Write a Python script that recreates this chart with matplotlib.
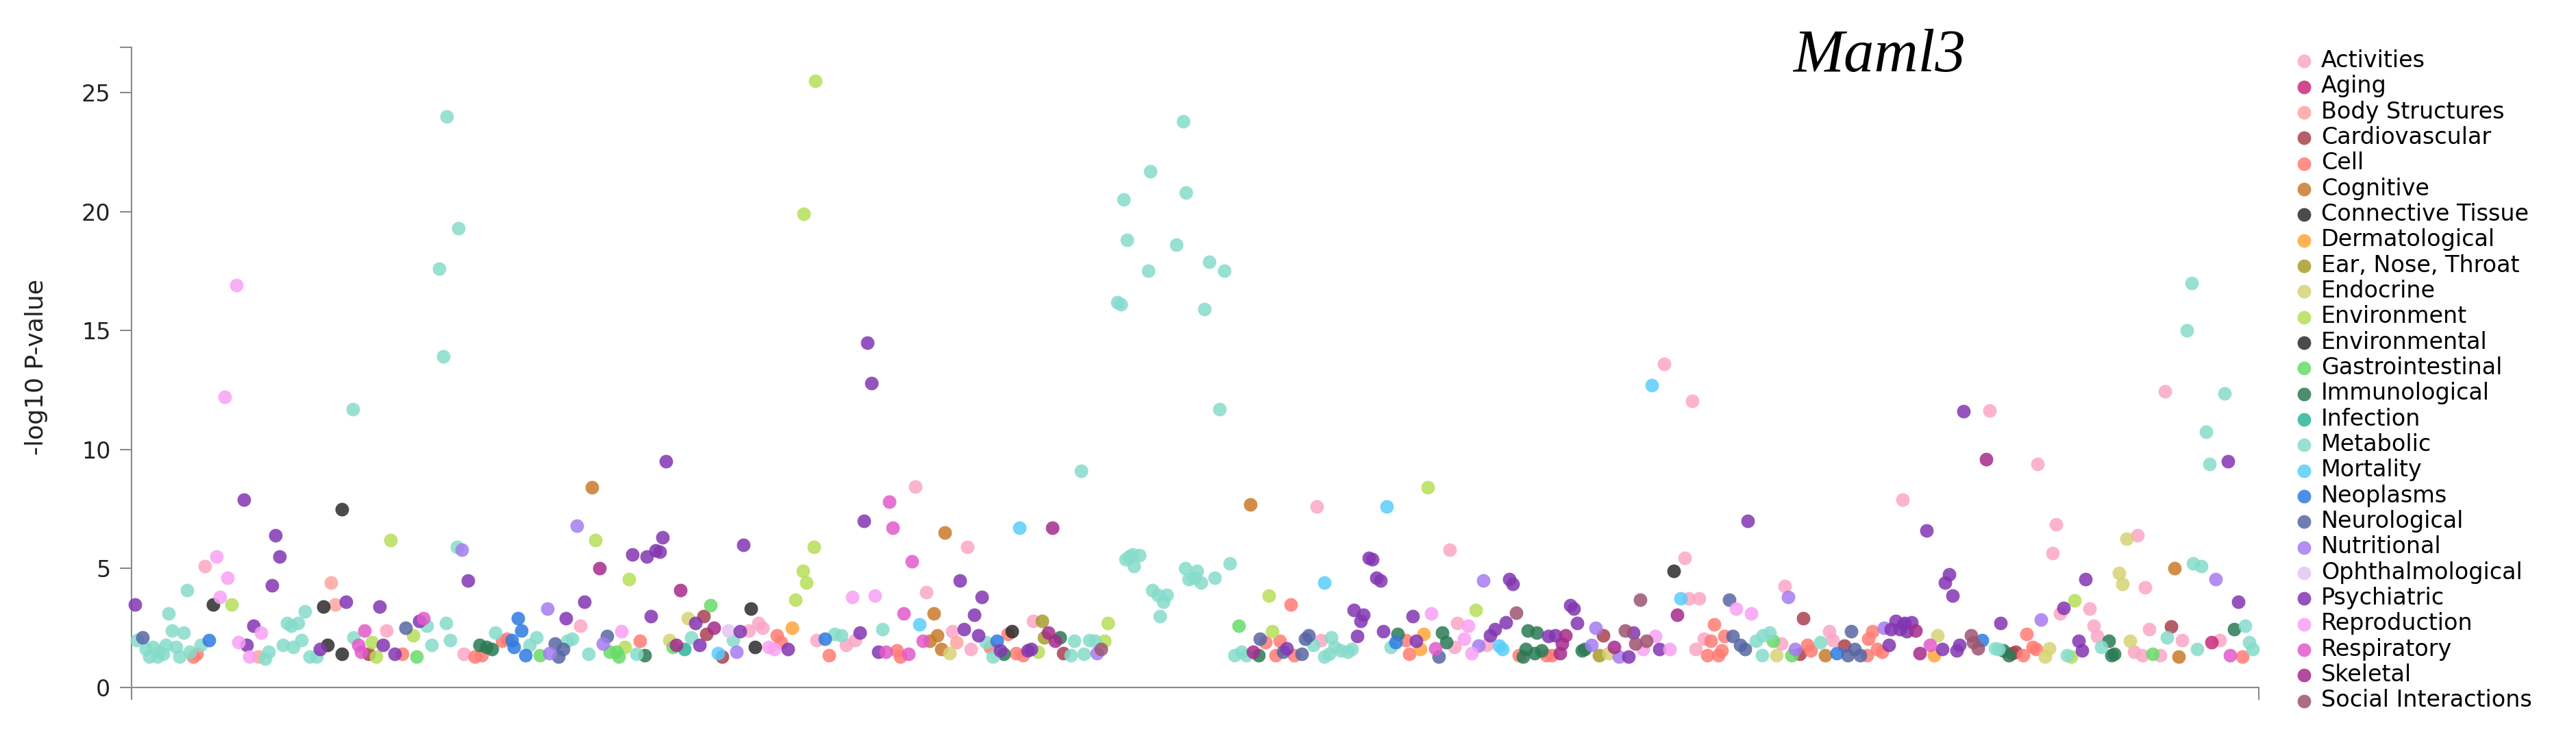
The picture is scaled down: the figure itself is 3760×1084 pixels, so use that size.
import matplotlib
matplotlib.use("Agg")
import matplotlib.pyplot as plt

# phenotype position (x) and -log10 p (y), one list per category
activities = [(299, 5.1), (564, 2.4), (677, 1.4), (847, 2.6), (1093, 2.4), (1107, 2.7), (1113, 2.5),
              (1192, 2.0), (1336, 8.45), (1412, 5.9), (1352, 4.0), (1390, 2.35), (1417, 1.6), (1235, 1.8),
              (1248, 2.0), (1508, 2.8), (1922, 7.6), (2116, 5.8), (2127, 2.7), (2123, 1.7), (2170, 1.8),
              (1928, 2.0), (2777, 7.9), (2459, 5.45), (2605, 4.25), (2465, 3.75), (2480, 3.75), (2487, 2.05),
              (2475, 1.6), (2600, 1.85), (2670, 2.35), (2675, 2.0), (2429, 13.6), (2470, 12.05), (2904, 11.65),
              (2974, 9.4), (3160, 12.45), (3001, 6.85), (2996, 5.65), (3120, 6.4), (3131, 4.2), (3007, 3.1),
              (3050, 3.3), (3056, 2.6), (3061, 2.15), (3115, 1.5), (3127, 1.35), (3153, 1.35), (3137, 2.45),
              (3185, 2.0), (3240, 2.0)]
aging = [(3228, 1.9)]
body_structures = [(483, 4.4), (489, 3.5), (377, 1.3), (1396, 1.9)]
cardiovascular = [(538, 1.4), (1027, 3.0), (1031, 2.25), (1054, 1.3), (1552, 1.45), (2632, 2.9), (2340, 2.2),
                  (2627, 1.4), (2692, 1.75), (2942, 1.5), (2937, 1.45), (3169, 2.55)]
cell = [(287, 1.4), (282, 1.3), (587, 1.4), (693, 1.3), (934, 1.95), (1134, 2.2), (1140, 1.9), (1210, 1.35),
        (733, 1.95), (740, 2.05), (703, 1.35), (1309, 1.55), (1314, 1.3), (1445, 1.7), (1483, 1.45),
        (1493, 1.35), (1471, 2.25), (1884, 3.5), (1847, 1.9), (1868, 1.95), (1862, 1.35), (1889, 1.35),
        (2052, 2.0), (2057, 1.4), (2217, 1.35), (2257, 1.35), (2265, 1.35), (2502, 2.65), (2497, 1.95),
        (2492, 1.35), (2508, 1.35), (2513, 1.55), (2517, 2.15), (2638, 1.8), (2643, 1.55), (2733, 2.35),
        (2727, 2.05), (2740, 1.6), (2747, 1.5), (2725, 1.35), (2958, 2.25), (2967, 1.7), (2972, 1.6),
        (2953, 1.35), (3273, 1.3)]
cognitive = [(864, 8.4), (1379, 6.5), (1363, 3.1), (1368, 2.2), (1357, 1.95), (1374, 1.6), (1825, 7.7),
             (2664, 1.35), (3174, 5.0), (3180, 1.3)]
connective_tissue = [(499, 7.5), (311, 3.5), (472, 3.4), (478, 1.8), (499, 1.4), (1477, 2.35), (2443, 4.9)]
dermatological = [(1156, 2.5), (2078, 2.25), (2073, 1.6), (2823, 1.35)]
ear_nose_throat = [(1521, 2.8), (1524, 2.1), (2334, 1.35)]
endocrine = [(1004, 2.9), (977, 2.0), (1386, 1.45), (2348, 1.45), (2593, 1.35), (3104, 6.25), (3093, 4.8),
             (3098, 4.35), (2828, 2.2), (2991, 1.65), (2985, 1.3), (3109, 1.95)]
environment = [(1190, 25.5), (1173, 19.9), (570, 6.2), (338, 3.5), (543, 1.9), (549, 1.3), (603, 2.2),
               (869, 6.2), (918, 4.55), (1188, 5.9), (1172, 4.9), (1177, 4.4), (1161, 3.7), (912, 1.7),
               (1515, 1.5), (1612, 1.95), (1617, 2.7), (2084, 8.4), (1852, 3.85), (1857, 2.35), (2154, 3.25),
               (3028, 3.65), (3023, 1.3)]
environmental = [(1096, 3.3), (1102, 1.7)]
gastrointestinal = [(608, 1.3), (1037, 3.45), (982, 1.7), (890, 1.5), (900, 1.5), (903, 1.3), (788, 1.35),
                    (1808, 2.6), (2588, 1.95), (2615, 1.35), (3142, 1.4)]
immunological = [(700, 1.8), (710, 1.7), (718, 1.6), (941, 1.35), (1465, 1.4), (1547, 2.1), (1837, 1.35),
                 (2040, 2.25), (2105, 2.3), (2111, 1.9), (2230, 2.4), (2243, 2.3), (2227, 1.6), (2223, 1.3),
                 (2240, 1.45), (2250, 1.55), (2309, 1.55), (2313, 1.6), (2924, 1.55), (2932, 1.35),
                 (3078, 1.95), (3086, 1.4), (3082, 1.35), (3261, 2.45)]
infection = [(999, 1.6)]
metabolic = [(652, 24.0), (669, 19.3), (641, 17.6), (647, 13.9), (515, 11.7), (667, 5.9), (273, 4.1),
             (246, 3.1), (445, 3.2), (419, 2.7), (425, 2.6), (435, 2.7), (251, 2.4), (268, 2.3), (200, 2.0),
             (213, 1.6), (223, 1.7), (233, 1.5), (242, 1.8), (218, 1.3), (230, 1.3), (238, 1.4), (257, 1.7),
             (262, 1.3), (277, 1.5), (293, 1.8), (392, 1.5), (387, 1.2), (413, 1.8), (428, 1.7), (440, 2.0),
             (452, 1.3), (462, 1.3), (516, 2.1), (623, 2.6), (651, 2.7), (657, 2.0), (630, 1.8),
             (1070, 2.0), (1009, 2.1), (929, 1.4), (859, 1.4), (835, 2.05), (828, 1.95), (783, 2.1),
             (773, 1.8), (723, 2.3), (1218, 2.25), (1228, 2.2), (1288, 2.45), (1439, 1.9), (1449, 1.3),
             (1568, 1.95), (1563, 1.35), (1590, 2.0), (1598, 1.95), (1582, 1.4), (1578, 9.1), (1643, 5.4),
             (1653, 5.6), (1663, 5.55), (1655, 5.1), (1648, 5.5), (1682, 4.1), (1690, 3.9), (1703, 3.9),
             (1698, 3.6), (1693, 3.0), (1730, 5.0), (1735, 4.55), (1640, 20.5), (1645, 18.8), (1679, 21.7),
             (1676, 17.5), (1631, 16.2), (1636, 16.1), (1727, 23.8), (1731, 20.8), (1717, 18.6),
             (1765, 17.9), (1787, 17.5), (1758, 15.9), (1780, 11.7), (1795, 5.2), (1747, 4.9), (1753, 4.4),
             (1773, 4.6), (1743, 4.6), (2030, 1.7), (1802, 1.35), (1812, 1.5), (1819, 1.35), (1917, 1.8),
             (1943, 2.1), (1948, 1.7), (1940, 1.4), (1957, 1.55), (1967, 1.5), (1973, 1.6), (1933, 1.3),
             (2563, 1.95), (2573, 2.2), (2583, 2.3), (2572, 1.35), (2657, 1.9), (3201, 5.2), (3213, 5.1),
             (2912, 1.65), (2917, 1.6), (3017, 1.35), (3067, 1.7), (3163, 2.1), (3207, 1.6), (3277, 2.6),
             (3283, 1.9), (3288, 1.6), (3199, 17.0), (3192, 15.0), (3247, 12.35), (3220, 10.75), (3225, 9.4)]
mortality = [(1342, 2.65), (1488, 6.7), (2024, 7.6), (1933, 4.4), (2188, 1.75), (2193, 1.6), (2411, 12.7),
             (2453, 3.75), (1048, 1.45)]
neoplasms = [(305, 2.0), (756, 2.9), (761, 2.4), (767, 1.35), (750, 1.7), (747, 2.0), (1204, 2.05),
             (1455, 1.95), (2037, 1.9), (2681, 1.45), (2893, 2.0)]
neurological = [(208, 2.1), (592, 2.5), (886, 2.15), (810, 1.85), (822, 1.6), (815, 1.3), (2100, 1.3),
                (1839, 2.05), (1873, 1.5), (1900, 1.4), (1910, 2.2), (1905, 2.05), (2524, 3.7), (2529, 2.15),
                (2540, 1.8), (2547, 1.6), (2702, 2.35), (2707, 1.6), (2697, 1.35), (2715, 1.35)]
nutritional = [(674, 5.8), (842, 6.8), (799, 3.3), (880, 1.85), (802, 1.45), (1075, 1.5), (1601, 1.45),
               (2165, 4.5), (2158, 1.75), (2610, 3.8), (2329, 2.5), (2363, 1.3), (2323, 1.8), (2620, 1.6),
               (2750, 2.5), (3234, 4.55), (2979, 2.85)]
ophthalmological = [(1063, 2.4)]
psychiatric = [(356, 7.9), (402, 6.4), (408, 5.5), (683, 4.5), (397, 4.3), (197, 3.5), (505, 3.6), (554, 3.4),
               (370, 2.6), (360, 1.8), (467, 1.6), (559, 1.8), (576, 1.4), (612, 2.8), (972, 9.5), (923, 5.6),
               (944, 5.5), (957, 5.75), (963, 5.7), (967, 6.3), (1085, 6.0), (853, 3.6), (826, 2.9),
               (950, 3.0), (1015, 2.7), (1080, 2.35), (1150, 1.6), (1021, 1.8), (1266, 14.5), (1272, 12.8),
               (1261, 7.0), (1401, 4.5), (1433, 3.8), (1422, 3.05), (1255, 2.3), (1407, 2.45), (1428, 2.2),
               (1282, 1.5), (1460, 1.55), (1500, 1.55), (1505, 1.6), (1998, 5.45), (2003, 5.4), (2009, 4.6),
               (2015, 4.5), (2203, 4.55), (2208, 4.35), (1976, 3.25), (1990, 3.05), (1986, 2.8), (2062, 3.0),
               (2198, 2.75), (1981, 2.15), (2019, 2.35), (2182, 2.45), (2175, 2.2), (2067, 1.95), (1878, 1.65),
               (2260, 2.15), (2551, 7.0), (2292, 3.45), (2297, 3.3), (2302, 2.7), (2384, 2.3), (2422, 1.6),
               (2377, 1.3), (2270, 2.2), (2757, 1.8), (2767, 2.8), (2760, 2.45), (2773, 2.45), (2778, 2.65),
               (2866, 11.6), (3252, 9.5), (2812, 6.6), (2845, 4.75), (2839, 4.4), (2850, 3.85), (3267, 3.6),
               (3044, 4.55), (3012, 3.35), (2920, 2.7), (2780, 2.7), (2790, 2.75), (2783, 2.35), (2835, 1.6),
               (2856, 1.55), (2860, 1.8), (3034, 1.95), (3039, 1.55)]
reproduction = [(345, 16.9), (328, 12.2), (316, 5.5), (332, 4.6), (321, 3.8), (381, 2.3), (348, 1.9),
                (364, 1.3), (907, 2.35), (1122, 1.7), (1130, 1.6), (1244, 3.8), (1277, 3.85), (2089, 3.1),
                (2143, 2.6), (2137, 2.05), (2148, 1.45), (2534, 3.3), (2556, 3.1), (2416, 2.15), (2437, 1.6),
                (2398, 1.6)]
respiratory = [(618, 2.9), (532, 2.4), (523, 1.8), (527, 1.5), (1298, 7.8), (1303, 6.7), (1331, 5.3),
               (1319, 3.1), (1347, 1.95), (1293, 1.5), (1326, 1.4), (2095, 1.65), (2817, 1.8), (3255, 1.35)]
skeletal = [(875, 5.0), (993, 4.1), (1042, 2.5), (987, 1.8), (1536, 6.7), (1530, 2.3), (1540, 1.95),
            (2448, 3.05), (2356, 1.7), (2285, 2.2), (2280, 1.85), (2277, 1.45), (2899, 9.6), (2796, 2.4),
            (2802, 1.45), (1829, 1.5)]
social_interactions = [(1607, 1.6), (2213, 3.15), (2394, 3.7), (2372, 2.4), (2387, 1.85), (2403, 1.95),
                       (2877, 2.2), (2887, 1.65), (2880, 1.9)]

series = [
    ("Activities", activities, "#fca6c6"),
    ("Aging", aging, "#c92a7a"),
    ("Body Structures", body_structures, "#fda59f"),
    ("Cardiovascular", cardiovascular, "#a8414f"),
    ("Cell", cell, "#ff7b73"),
    ("Cognitive", cognitive, "#c97a2b"),
    ("Connective Tissue", connective_tissue, "#2b2b2b"),
    ("Dermatological", dermatological, "#ffa53a"),
    ("Ear, Nose, Throat", ear_nose_throat, "#a89c2a"),
    ("Endocrine", endocrine, "#d6d375"),
    ("Environment", environment, "#b5de58"),
    ("Environmental", environmental, "#2b2b2b"),
    ("Gastrointestinal", gastrointestinal, "#69db69"),
    ("Immunological", immunological, "#2b7a55"),
    ("Infection", infection, "#2cb498"),
    ("Metabolic", metabolic, "#86dccb"),
    ("Mortality", mortality, "#5acdfc"),
    ("Neoplasms", neoplasms, "#2e7be2"),
    ("Neurological", neurological, "#5766a4"),
    ("Nutritional", nutritional, "#a57cf0"),
    ("Ophthalmological", ophthalmological, "#e3c6f4"),
    ("Psychiatric", psychiatric, "#8336b2"),
    ("Reproduction", reproduction, "#f9a0f4"),
    ("Respiratory", respiratory, "#e25aca"),
    ("Skeletal", skeletal, "#a52a8c"),
    ("Social Interactions", social_interactions, "#9e5572"),
]

fig = plt.figure(figsize=(37.6, 10.84), dpi=100)
ax = fig.add_axes([0.05106, 0.0747, 0.8258, 0.8616])

for name, pts, col in series:
    xs = [p[0] for p in pts]
    ys = [p[1] for p in pts]
    ax.scatter(xs, ys, s=205, color=col, alpha=0.85, linewidths=0, label=name, zorder=3, clip_on=False)

axis_grey = "#8a8a8a"
ax.set_xlim(192, 3297)
ax.set_ylim(0, 26.9)
for side in ["top", "right"]:
    ax.spines[side].set_visible(False)
for side in ["left", "bottom"]:
    ax.spines[side].set_color(axis_grey)
    ax.spines[side].set_linewidth(1.5)

ax.set_yticks(range(0, 30, 5))
ax.set_yticks([26.9], minor=True)
ax.tick_params(axis="y", which="both", length=12, width=1.5, color=axis_grey,
               labelsize=24, labelcolor="#222222", pad=10)
ax.set_xticks([192, 3297])
ax.set_xticklabels([])
ax.tick_params(axis="x", length=13, width=1.5, color=axis_grey)

ax.set_ylabel("-log10 P-value", fontsize=26, color="#222222")
ax.yaxis.set_label_coords(-0.0393, 0.5)

fig.text(0.696, 0.904, "Maml3", family="Liberation Serif", style="italic", fontsize=64,
         ha="left", va="baseline")

ax.legend(loc="upper left", bbox_to_anchor=(3350 / 3760, 1 - 72 / 1084), bbox_transform=fig.transFigure,
          frameon=False, fontsize=24, handlelength=0.8, handletextpad=0.34, labelspacing=0.13,
          borderpad=0, borderaxespad=0, scatterpoints=1, markerscale=1.0)

plt.savefig("out.png", dpi=100)
